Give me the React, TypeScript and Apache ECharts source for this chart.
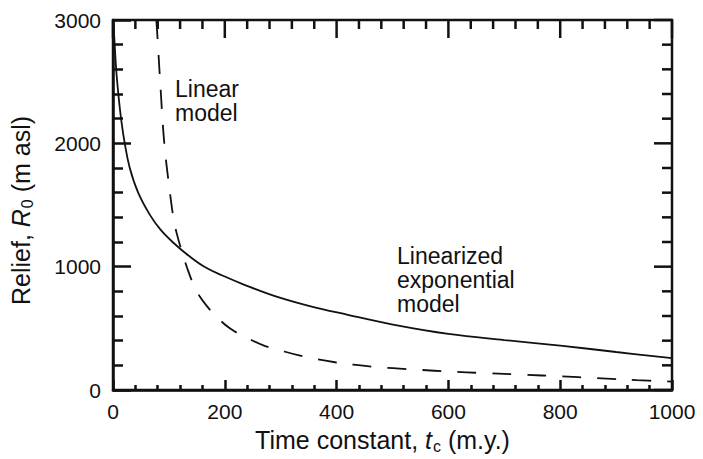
import React, { useEffect, useRef } from "react";
import * as echarts from "echarts";

// Linearized exponential model (solid)
const expX = [0.5, 3, 6, 10, 15, 21, 30, 45, 66, 85, 108, 135, 165, 200, 233, 287, 352, 420, 513, 600, 700, 800, 900, 1000];
const expY = [3000, 2800, 2580, 2380, 2180, 2000, 1800, 1600, 1420, 1300, 1194, 1090, 995, 920, 857, 765, 680, 610, 520, 455, 405, 360, 308, 258];

// Linear model (dashed)
const linX = [77.5, 80, 83, 86, 89, 93, 98, 103, 108, 114, 123, 133, 144, 155, 168, 184, 209, 239, 269, 302, 333, 364, 397, 430, 466, 501, 550, 600, 665, 734, 800, 865, 937, 1000];
const linY = [3000, 2830, 2600, 2380, 2160, 1940, 1740, 1560, 1400, 1270, 1126, 985, 855, 760, 680, 600, 500, 425, 362, 318, 280, 250, 225, 205, 188, 177, 163, 150, 137, 124, 111, 97, 80, 68];

const xTicks = [0, 200, 400, 600, 800, 1000];
const yTicks = [0, 1000, 2000, 3000];
const minorPerMajor = 5;

const FONT = "Liberation Sans, Arial, Helvetica, sans-serif";
const INK = "#111";

function tickList(major: number[]) {
  const out: [number, boolean][] = [];
  for (let k = 0; k < major.length; k++) {
    out.push([major[k], true]);
    if (k < major.length - 1) {
      const step = (major[k + 1] - major[k]) / minorPerMajor;
      for (let m = 1; m < minorPerMajor; m++) out.push([major[k] + m * step, false]);
    }
  }
  return out;
}

export default function App() {
  const ref = useRef<HTMLDivElement>(null);
  useEffect(() => {
    if (!ref.current) return;
    const chart = echarts.init(ref.current, undefined, { renderer: "svg" });
    const xMin = xTicks[0], xMax = xTicks[xTicks.length - 1];
    const yMin = yTicks[0], yMax = yTicks[yTicks.length - 1];
    const xInt = xTicks[1] - xTicks[0];
    const yInt = yTicks[1] - yTicks[0];
    const rich = {
      n: { fontFamily: FONT, fontSize: 25, color: INK, lineHeight: 28 },
      i: { fontFamily: FONT, fontSize: 25, color: INK, fontStyle: "italic", lineHeight: 28 },
      s: { fontFamily: FONT, fontSize: 16, color: INK, lineHeight: 28, verticalAlign: "bottom", padding: [0, 0, 0, 1] },
    };
    const texts = [
      {
        type: "text", left: 175, top: 77,
        style: { text: "Linear\nmodel", fill: INK, font: `23px ${FONT}`, lineHeight: 24 },
      },
      {
        type: "text", left: 397, top: 244,
        style: { text: "Linearized\nexponential\nmodel", fill: INK, font: `23px ${FONT}`, lineHeight: 24 },
      },
    ];
    chart.setOption({
      animation: false,
      backgroundColor: "#fff",
      grid: { show: true, borderColor: INK, borderWidth: 2.5, left: 113, right: 31, top: 20, bottom: 68, containLabel: false },
      xAxis: {
        type: "value", min: xMin, max: xMax, interval: xInt,
        splitLine: { show: false },
        axisLine: { show: true, lineStyle: { color: INK, width: 2.5 } },
        axisTick: { show: true, inside: true, length: 10, lineStyle: { color: INK, width: 2.5 } },
        minorTick: { show: true, splitNumber: minorPerMajor, length: 5, lineStyle: { color: INK, width: 2.5 } },
        axisLabel: { color: INK, fontFamily: FONT, fontSize: 21, margin: 11, formatter: (v: number) => String(v) },
        name: "{n|Time constant, }{i|t}{s|c}{n| (m.y.)}",
        nameLocation: "middle",
        nameGap: 36,
        nameTextStyle: { rich, padding: [0, 20, 0, 0] },
      },
      yAxis: {
        type: "value", min: yMin, max: yMax, interval: yInt,
        splitLine: { show: false },
        axisLine: { show: true, lineStyle: { color: INK, width: 2.5 } },
        axisTick: { show: true, inside: true, length: 18, lineStyle: { color: INK, width: 2.5 } },
        minorTick: { show: true, splitNumber: minorPerMajor, length: 10, lineStyle: { color: INK, width: 2.5 } },
        axisLabel: { color: INK, fontFamily: FONT, fontSize: 21, margin: 12, formatter: (v: number) => String(v) },
        name: "{n|Relief, }{i|R}{s|0}{n| (m asl)}",
        nameLocation: "middle",
        nameGap: 78,
        nameTextStyle: { rich, padding: [0, 11, 0, 0] },
      },
      series: [
        {
          type: "line",
          data: expX.map((x, k) => [x, expY[k]]),
          showSymbol: false, smooth: 0.4,
          lineStyle: { color: INK, width: 1.8, type: "solid" },
        },
        {
          type: "line",
          data: linX.map((x, k) => [x, linY[k]]),
          showSymbol: false, smooth: 0.4,
          lineStyle: { color: INK, width: 1.8, type: [19, 16] },
        },
      ],
      graphic: texts,
    });

    // Top and right inward ticks, placed through the grid's own scales.
    try {
      const toPx = (xv: number, yv: number) =>
        chart.convertToPixel({ gridIndex: 0 } as any, [xv, yv]) as number[];
      const tickStyle = { stroke: INK, lineWidth: 2.5 };
      const ticks: any[] = [];
      tickList(xTicks).forEach(([v, major]) => {
        const pt = toPx(v, yMax);
        if (!pt || !isFinite(pt[0])) return;
        const lt = major ? 18 : 9;
        ticks.push({ type: "line", silent: true, shape: { x1: pt[0], y1: pt[1], x2: pt[0], y2: pt[1] + lt }, style: tickStyle });
      });
      tickList(yTicks).forEach(([v, major]) => {
        const pr = toPx(xMax, v);
        if (!pr || !isFinite(pr[0])) return;
        const len = major ? 18 : 10;
        ticks.push({ type: "line", silent: true, shape: { x1: pr[0], y1: pr[1], x2: pr[0] - len, y2: pr[1] }, style: tickStyle });
      });
      chart.setOption({ graphic: [...texts, ...ticks] }, { replaceMerge: ["graphic"] } as any);
    } catch (e) {
      // keep the chart as drawn if tick placement fails
    }

    return () => chart.dispose();
  }, []);
  return (
    <div
      ref={ref}
      style={{ position: "fixed", left: 0, top: 0, width: 703, height: 459, background: "#fff" }}
    />
  );
}
